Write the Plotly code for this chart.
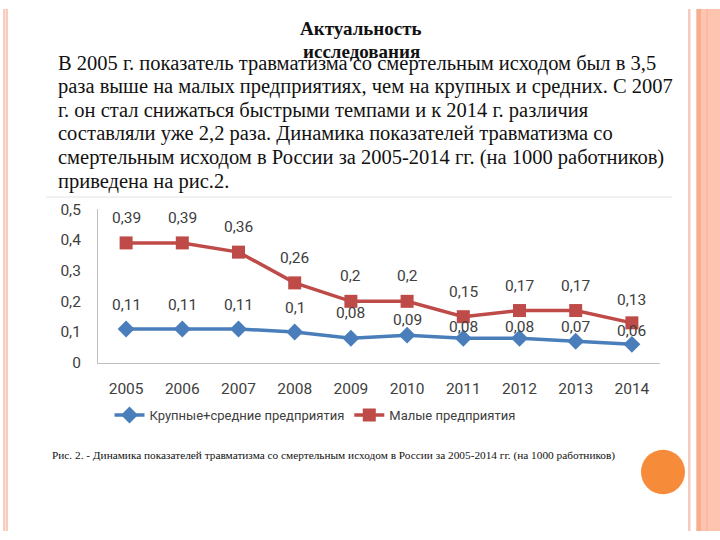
import plotly.graph_objects as go

# ---------------- data ----------------
years = [2005, 2006, 2007, 2008, 2009, 2010, 2011, 2012, 2013, 2014]
large_medium = [0.11, 0.11, 0.11, 0.10, 0.08, 0.09, 0.08, 0.08, 0.07, 0.06]
small = [0.39, 0.39, 0.36, 0.26, 0.20, 0.20, 0.15, 0.17, 0.17, 0.13]
series_names = ["Крупные+средние предприятия", "Малые предприятия"]
y_ticks = [0, 0.1, 0.2, 0.3, 0.4, 0.5]
y_tick_labels = ["0", "0,1", "0,2", "0,3", "0,4", "0,5"]

title_lines = ["Актуальность", "исследования"]
body_lines = [
    "В 2005 г. показатель травматизма со смертельным исходом был в 3,5",
    "раза выше на малых предприятиях, чем на крупных и средних. С 2007",
    "г. он стал снижаться быстрыми темпами и к 2014 г. различия",
    "составляли уже 2,2 раза. Динамика показателей травматизма со",
    "смертельным исходом в России за 2005-2014 гг. (на 1000 работников)",
    "приведена на рис.2.",
]
caption = ("Рис. 2. - Динамика показателей травматизма со смертельным исходом "
           "в России за 2005-2014 гг. (на 1000 работников)")

# ---------------- layout helpers ----------------
W, H = 720, 540


def px(x):
    return x / W


def py(y):
    return 1 - y / H


def fmt(v):
    return ("%g" % v).replace(".", ",")


BLUE = "#4A7EBB"
RED = "#BE4B48"
TXT = "#404040"
CHART_FONT = "Roboto"

fig = go.Figure()
fig.add_trace(go.Scatter(
    x=years, y=large_medium, name=series_names[0], mode="lines+markers",
    line=dict(color=BLUE, width=3.5),
    marker=dict(symbol="diamond", size=13, color=BLUE),
    cliponaxis=False,
))
fig.add_trace(go.Scatter(
    x=years, y=small, name=series_names[1], mode="lines+markers",
    line=dict(color=RED, width=3.5),
    marker=dict(symbol="square", size=13, color=RED),
    cliponaxis=False,
))

annotations = []
# data-label vertical offsets (label placement only)
blue_shift = [24, 24, 24, 24, 25, 15, 11, 11, 14, 13]
red_shift = [25, 25, 25, 25, 25, 25, 25, 25, 25, 23]
for i, yr in enumerate(years):
    annotations.append(dict(x=yr, y=large_medium[i], xref="x", yref="y",
                            text=fmt(large_medium[i]), showarrow=False,
                            yshift=blue_shift[i],
                            font=dict(family=CHART_FONT, size=15.5, color=TXT)))
    annotations.append(dict(x=yr, y=small[i], xref="x", yref="y",
                            text=fmt(small[i]), showarrow=False,
                            yshift=red_shift[i],
                            font=dict(family=CHART_FONT, size=15.5, color=TXT)))

for i, t in enumerate(title_lines):
    annotations.append(dict(x=px(361), y=py(20 + 23.5 * i), xref="paper", yref="paper",
                            text="<b>%s</b>" % t, showarrow=False,
                            xanchor="center", yanchor="middle",
                            font=dict(family="Liberation Serif", size=19, color="#111")))
for i, t in enumerate(body_lines):
    annotations.append(dict(x=px(56), y=py(56 + 24.4 * i), xref="paper", yref="paper",
                            text=t, showarrow=False, xanchor="left", yanchor="middle",
                            font=dict(family="Liberation Serif", size=20.5, color="#111")))
annotations.append(dict(x=px(50), y=py(461.5), xref="paper", yref="paper",
                        text=caption, showarrow=False, xanchor="left", yanchor="middle",
                        font=dict(family="Liberation Serif", size=11.3, color="#111")))

shapes = [
    dict(type="line", xref="paper", yref="paper", x0=px(46), x1=px(672),
         y0=py(194.5), y1=py(194.5), line=dict(color="#E2E2E2", width=1)),
    dict(type="rect", xref="paper", yref="paper", x0=px(3), x1=px(8), y0=0, y1=1,
         fillcolor="#F8CDBE", line=dict(width=0)),
    dict(type="rect", xref="paper", yref="paper", x0=px(5), x1=px(6), y0=0, y1=1,
         fillcolor="#FBE2D8", line=dict(width=0)),
    dict(type="rect", xref="paper", yref="paper", x0=px(688), x1=px(690.5), y0=0, y1=1,
         fillcolor="#F4CBBC", line=dict(width=0)),
    dict(type="rect", xref="paper", yref="paper", x0=px(696), x1=1, y0=0, y1=1,
         fillcolor="#FDC5AF", line=dict(width=0)),
    dict(type="rect", xref="paper", yref="paper", x0=px(697), x1=px(701), y0=0, y1=1,
         fillcolor="#F7AE8F", line=dict(width=0)),
    dict(type="rect", xref="paper", yref="paper", x0=px(706), x1=px(708), y0=0, y1=1,
         fillcolor="#FBBBA2", line=dict(width=0)),
    dict(type="circle", xref="paper", yref="paper", x0=px(641), x1=px(685),
         y0=py(502), y1=py(456), fillcolor="#F68B3A", line=dict(width=0)),
]

fig.update_layout(
    width=W, height=H, autosize=False,
    margin=dict(l=0, r=0, t=0, b=0),
    paper_bgcolor="white", plot_bgcolor="white",
    showlegend=True,
    legend=dict(orientation="h", x=px(315), y=py(420), xanchor="center",
                yanchor="middle", font=dict(family=CHART_FONT, size=13, color=TXT),
                bgcolor="rgba(0,0,0,0)", itemwidth=30),
    xaxis=dict(domain=[px(98), px(660)], range=[2004.5, 2014.5],
               tickvals=years, ticktext=[str(y) for y in years],
               showline=True, linecolor="#BFBFBF", linewidth=1,
               showgrid=False, zeroline=False, ticks="",
               ticklabelstandoff=12,
               tickfont=dict(family=CHART_FONT, size=15.5, color=TXT)),
    yaxis=dict(domain=[py(366), py(207)], range=[0, 0.5],
               tickvals=y_ticks, ticktext=y_tick_labels,
               showline=True, linecolor="#BFBFBF", linewidth=1,
               showgrid=False, zeroline=False, ticks="",
               ticklabelstandoff=13,
               tickfont=dict(family=CHART_FONT, size=15.5, color=TXT)),
    annotations=annotations,
    shapes=shapes,
)

fig.write_html("out.html", config={"displayModeBar": False},
               post_script="document.body.style.margin='0';"
                           "document.body.style.overflow='hidden';")
